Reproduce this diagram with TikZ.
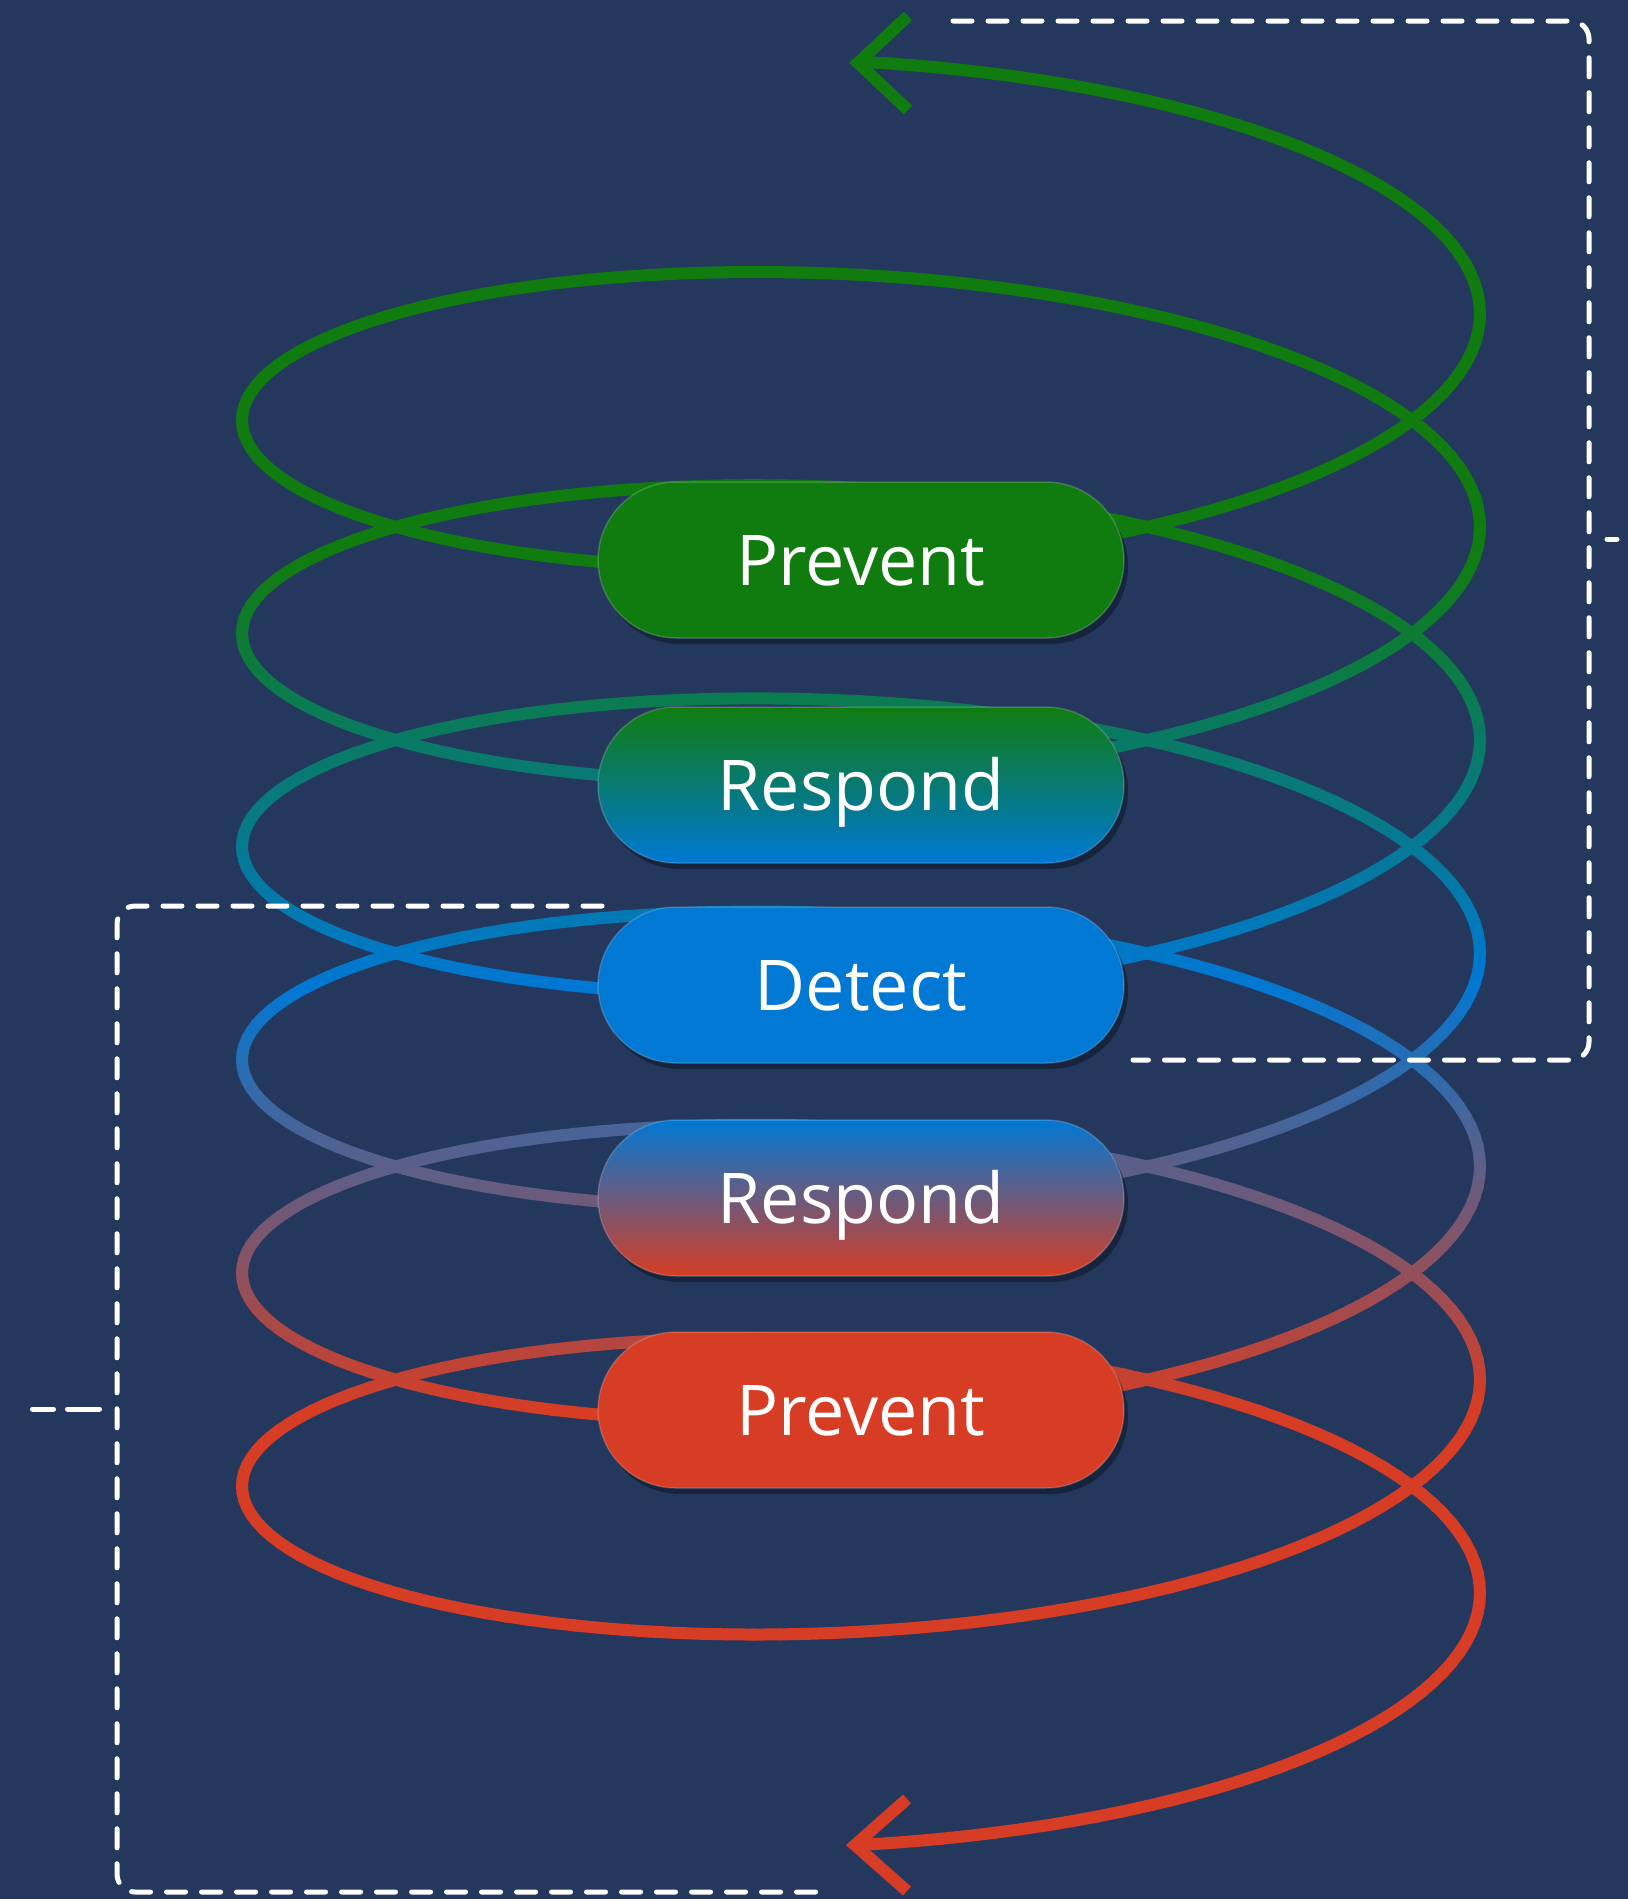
\documentclass[tikz,border=0pt]{standalone}
\usepackage{fontspec}
\setmainfont{Open Sans}
\usetikzlibrary{shapes.misc,shadows}
\definecolor{bg}{RGB}{36,56,94}
\definecolor{cgreen}{RGB}{16,124,16}
\definecolor{cblue}{RGB}{0,120,212}
\definecolor{cred}{RGB}{214,61,36}
\tikzset{
  spiral/.style={line width=12pt, line cap=round},
  arrowhd/.style={line width=12pt, line cap=butt, line join=miter},
  dashln/.style={white, line width=5pt, line cap=round, dash pattern=on 19pt off 16pt},
  stubln/.style={white, line width=5pt, line cap=round},
  pill/.style={rounded rectangle, minimum width=526pt, minimum height=156pt,
    inner sep=0pt, text=white, font=\fontsize{70}{84}\selectfont,
    text height=50pt, text depth=0pt,
    draw=white, draw opacity=0.18, line width=1.5pt,
    drop shadow={shadow xshift=4pt, shadow yshift=-6pt, opacity=0.35, fill=black}}
}
\begin{document}
\begin{tikzpicture}[x=1pt,y=-1pt]
\fill[bg] (0,0) rectangle (1628,1899);
\useasboundingbox (0,0) rectangle (1628,1899);
% helix with vertical colour gradient
\foreach \i in {0,...,935}{
  \pgfmathsetmacro\pa{2.5*\i}
  \pgfmathsetmacro\pb{\pa+2.5}
  \pgfmathsetmacro\xa{861+619*sin(\pa)}
  \pgfmathsetmacro\ya{260.4+0.5922*\pa-198.7*cos(\pa)}
  \pgfmathsetmacro\xb{861+619*sin(\pb)}
  \pgfmathsetmacro\yb{260.4+0.5922*\pb-198.7*cos(\pb)}
  \pgfmathsetmacro\ym{(\ya+\yb)/2}
  \pgfmathsetmacro\pg{max(0,min(100,(\ym-560)/4.25))}
  \pgfmathsetmacro\pr{max(0,min(100,(\ym-985)/4.25))}
  \colorlet{segc}{cblue!\pg!cgreen}
  \colorlet{segc}{cred!\pr!segc}
  \draw[spiral, segc] (\xa,\ya) -- (\xb,\yb);
}
% arrow heads
\coordinate (toptip) at (858,63);
\coordinate (bottip) at (855,1845);
\draw[arrowhd, cgreen] ([shift={(50,-47)}]toptip) -- (toptip) -- ([shift={(50,47)}]toptip);
\draw[arrowhd, cred] ([shift={(52,-46)}]bottip) -- (bottip) -- ([shift={(52,46)}]bottip);
% dashed brackets
\draw[dashln, rounded corners=18pt] (953,21) -- (1589,21) -- (1589,1060) -- (1133,1060);
\draw[stubln] (1607,539) -- (1617,539);
\draw[dashln, rounded corners=18pt] (602,906) -- (117,906) -- (117,1892) -- (830,1892);
\draw[stubln] (67.5,1409) -- (99.5,1409);
\draw[stubln] (32.5,1409) -- (53.5,1409);
% pills
\node[pill, fill=cgreen] (p1) at (861,560) {Prevent};
\node[pill, top color=cgreen, bottom color=cblue] (r1) at (861,785) {Respond};
\node[pill, fill=cblue] (d1) at (861,985) {Detect};
\node[pill, top color=cblue, bottom color=cred] (r2) at (861,1198) {Respond};
\node[pill, fill=cred] (p2) at (861,1410) {Prevent};
\end{tikzpicture}
\end{document}
